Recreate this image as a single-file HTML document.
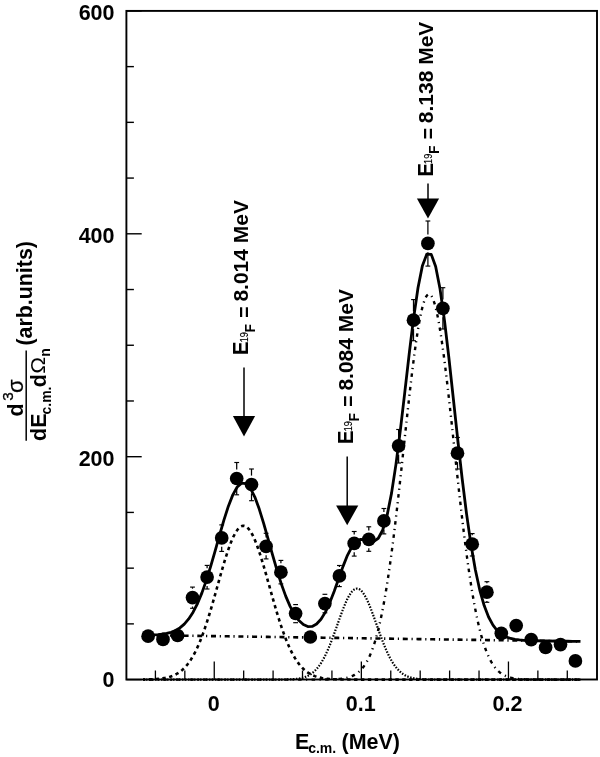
<!DOCTYPE html><html><head><meta charset="utf-8"><style>html,body{margin:0;padding:0;background:#fff;}svg{display:block;filter:grayscale(1);}text{font-family:"Liberation Sans",sans-serif;}</style></head><body>
<svg width="600" height="757" viewBox="0 0 600 757">
<rect x="0" y="0" width="600" height="757" fill="#fff"/>
<path d="M143.00,679.51 L144.00,679.50 L145.00,679.48 L146.00,679.46 L147.00,679.44 L148.00,679.42 L149.00,679.39 L150.00,679.36 L151.00,679.32 L152.00,679.28 L153.00,679.24 L154.00,679.18 L155.00,679.12 L156.00,679.06 L157.00,678.98 L158.00,678.90 L159.00,678.81 L160.00,678.70 L161.00,678.59 L162.00,678.46 L163.00,678.31 L164.00,678.15 L165.00,677.97 L166.00,677.77 L167.00,677.55 L168.00,677.31 L169.00,677.04 L170.00,676.74 L171.00,676.41 L172.00,676.06 L173.00,675.67 L174.00,675.24 L175.00,674.77 L176.00,674.26 L177.00,673.70 L178.00,673.10 L179.00,672.44 L180.00,671.73 L181.00,670.97 L182.00,670.14 L183.00,669.25 L184.00,668.29 L185.00,667.26 L186.00,666.15 L187.00,664.97 L188.00,663.71 L189.00,662.37 L190.00,660.94 L191.00,659.42 L192.00,657.81 L193.00,656.10 L194.00,654.30 L195.00,652.41 L196.00,650.41 L197.00,648.31 L198.00,646.11 L199.00,643.81 L200.00,641.41 L201.00,638.91 L202.00,636.31 L203.00,633.61 L204.00,630.81 L205.00,627.92 L206.00,624.94 L207.00,621.88 L208.00,618.73 L209.00,615.50 L210.00,612.21 L211.00,608.85 L212.00,605.43 L213.00,601.96 L214.00,598.45 L215.00,594.90 L216.00,591.33 L217.00,587.75 L218.00,584.16 L219.00,580.58 L220.00,577.02 L221.00,573.48 L222.00,569.99 L223.00,566.55 L224.00,563.17 L225.00,559.87 L226.00,556.66 L227.00,553.55 L228.00,550.54 L229.00,547.67 L230.00,544.93 L231.00,542.33 L232.00,539.90 L233.00,537.62 L234.00,535.53 L235.00,533.62 L236.00,531.90 L237.00,530.39 L238.00,529.08 L239.00,527.99 L240.00,527.11 L241.00,526.45 L242.00,526.02 L243.00,525.82 L244.00,525.84 L245.00,526.09 L246.00,526.57 L247.00,527.27 L248.00,528.19 L249.00,529.33 L250.00,530.68 L251.00,532.23 L252.00,533.99 L253.00,535.93 L254.00,538.07 L255.00,540.37 L256.00,542.84 L257.00,545.46 L258.00,548.23 L259.00,551.14 L260.00,554.16 L261.00,557.29 L262.00,560.52 L263.00,563.84 L264.00,567.23 L265.00,570.69 L266.00,574.19 L267.00,577.73 L268.00,581.30 L269.00,584.88 L270.00,588.47 L271.00,592.05 L272.00,595.61 L273.00,599.15 L274.00,602.66 L275.00,606.12 L276.00,609.52 L277.00,612.87 L278.00,616.15 L279.00,619.36 L280.00,622.50 L281.00,625.55 L282.00,628.51 L283.00,631.38 L284.00,634.16 L285.00,636.84 L286.00,639.42 L287.00,641.90 L288.00,644.28 L289.00,646.56 L290.00,648.74 L291.00,650.82 L292.00,652.79 L293.00,654.67 L294.00,656.45 L295.00,658.14 L296.00,659.73 L297.00,661.23 L298.00,662.64 L299.00,663.97 L300.00,665.22 L301.00,666.38 L302.00,667.47 L303.00,668.48 L304.00,669.43 L305.00,670.31 L306.00,671.12 L307.00,671.88 L308.00,672.58 L309.00,673.22 L310.00,673.82 L311.00,674.36 L312.00,674.87 L313.00,675.33 L314.00,675.75 L315.00,676.13 L316.00,676.48 L317.00,676.80 L318.00,677.09 L319.00,677.36 L320.00,677.59 L321.00,677.81 L322.00,678.01 L323.00,678.18 L324.00,678.34 L325.00,678.48 L326.00,678.61 L327.00,678.73 L328.00,678.83 L329.00,678.92 L330.00,679.00 L331.00,679.07 L332.00,679.14 L333.00,679.19 L334.00,679.24 L335.00,679.29 L336.00,679.33 L337.00,679.36 L338.00,679.39 L339.00,679.42 L340.00,679.45 L341.00,679.47 L342.00,679.48 L343.00,679.50 L344.00,679.51 L345.00,679.53 L346.00,679.54 L347.00,679.55 L348.00,679.55 L349.00,679.56 L350.00,679.57 L351.00,679.57 L352.00,679.57 L353.00,679.58 L354.00,679.58 L355.00,679.58 L356.00,679.59 L357.00,679.59 L358.00,679.59 L359.00,679.59 L360.00,679.59 L361.00,679.59 L362.00,679.60 L363.00,679.60 L364.00,679.60 L365.00,679.60 L366.00,679.60 L367.00,679.60 L368.00,679.60 L369.00,679.60 L370.00,679.60 L371.00,679.60 L372.00,679.60 L373.00,679.60 L374.00,679.60 L375.00,679.60 L376.00,679.60 L377.00,679.60 L378.00,679.60 L379.00,679.60 L380.00,679.60 L381.00,679.60 L382.00,679.60 L383.00,679.60 L384.00,679.60 L385.00,679.60 L386.00,679.60 L387.00,679.60 L388.00,679.60 L389.00,679.60 L390.00,679.60 L391.00,679.60 L392.00,679.60 L393.00,679.60 L394.00,679.60 L395.00,679.60 L396.00,679.60 L397.00,679.60 L398.00,679.60 L399.00,679.60 L400.00,679.60 L401.00,679.60 L402.00,679.60 L403.00,679.60 L404.00,679.60 L405.00,679.60 L406.00,679.60 L407.00,679.60 L408.00,679.60 L409.00,679.60 L410.00,679.60 L411.00,679.60 L412.00,679.60 L413.00,679.60 L414.00,679.60 L415.00,679.60 L416.00,679.60 L417.00,679.60 L418.00,679.60 L419.00,679.60 L420.00,679.60 L421.00,679.60 L422.00,679.60 L423.00,679.60 L424.00,679.60 L425.00,679.60 L426.00,679.60 L427.00,679.60 L428.00,679.60 L429.00,679.60 L430.00,679.60 L431.00,679.60 L432.00,679.60 L433.00,679.60 L434.00,679.60 L435.00,679.60 L436.00,679.60 L437.00,679.60 L438.00,679.60 L439.00,679.60 L440.00,679.60 L441.00,679.60 L442.00,679.60 L443.00,679.60 L444.00,679.60 L445.00,679.60 L446.00,679.60 L447.00,679.60 L448.00,679.60 L449.00,679.60 L450.00,679.60 L451.00,679.60 L452.00,679.60 L453.00,679.60 L454.00,679.60 L455.00,679.60 L456.00,679.60 L457.00,679.60 L458.00,679.60 L459.00,679.60 L460.00,679.60 L461.00,679.60 L462.00,679.60 L463.00,679.60 L464.00,679.60 L465.00,679.60 L466.00,679.60 L467.00,679.60 L468.00,679.60 L469.00,679.60 L470.00,679.60 L471.00,679.60 L472.00,679.60 L473.00,679.60 L474.00,679.60 L475.00,679.60 L476.00,679.60 L477.00,679.60 L478.00,679.60 L479.00,679.60 L480.00,679.60 L481.00,679.60 L482.00,679.60 L483.00,679.60 L484.00,679.60 L485.00,679.60 L486.00,679.60 L487.00,679.60 L488.00,679.60 L489.00,679.60 L490.00,679.60 L491.00,679.60 L492.00,679.60 L493.00,679.60 L494.00,679.60 L495.00,679.60 L496.00,679.60 L497.00,679.60 L498.00,679.60 L499.00,679.60 L500.00,679.60 L501.00,679.60 L502.00,679.60 L503.00,679.60 L504.00,679.60 L505.00,679.60 L506.00,679.60 L507.00,679.60 L508.00,679.60 L509.00,679.60 L510.00,679.60 L511.00,679.60 L512.00,679.60 L513.00,679.60 L514.00,679.60 L515.00,679.60 L516.00,679.60 L517.00,679.60 L518.00,679.60 L519.00,679.60 L520.00,679.60 L521.00,679.60 L522.00,679.60 L523.00,679.60 L524.00,679.60 L525.00,679.60 L526.00,679.60 L527.00,679.60 L528.00,679.60 L529.00,679.60 L530.00,679.60 L531.00,679.60 L532.00,679.60 L533.00,679.60 L534.00,679.60 L535.00,679.60 L536.00,679.60 L537.00,679.60 L538.00,679.60 L539.00,679.60 L540.00,679.60 L541.00,679.60 L542.00,679.60 L543.00,679.60 L544.00,679.60 L545.00,679.60 L546.00,679.60 L547.00,679.60 L548.00,679.60 L549.00,679.60 L550.00,679.60 L551.00,679.60 L552.00,679.60 L553.00,679.60 L554.00,679.60 L555.00,679.60 L556.00,679.60 L557.00,679.60 L558.00,679.60 L559.00,679.60 L560.00,679.60 L561.00,679.60 L562.00,679.60 L563.00,679.60 L564.00,679.60 L565.00,679.60 L566.00,679.60 L567.00,679.60 L568.00,679.60 L569.00,679.60 L570.00,679.60 L571.00,679.60 L572.00,679.60 L573.00,679.60 L574.00,679.60 L575.00,679.60 L576.00,679.60 L577.00,679.60 L578.00,679.60 L579.00,679.60 L580.00,679.60 L580.50,679.60" fill="none" stroke="#000" stroke-width="2.6" stroke-dasharray="3.4 3.48" stroke-dashoffset="1.2"/>
<path d="M143.00,679.60 L144.00,679.60 L145.00,679.60 L146.00,679.60 L147.00,679.60 L148.00,679.60 L149.00,679.60 L150.00,679.60 L151.00,679.60 L152.00,679.60 L153.00,679.60 L154.00,679.60 L155.00,679.60 L156.00,679.60 L157.00,679.60 L158.00,679.60 L159.00,679.60 L160.00,679.60 L161.00,679.60 L162.00,679.60 L163.00,679.60 L164.00,679.60 L165.00,679.60 L166.00,679.60 L167.00,679.60 L168.00,679.60 L169.00,679.60 L170.00,679.60 L171.00,679.60 L172.00,679.60 L173.00,679.60 L174.00,679.60 L175.00,679.60 L176.00,679.60 L177.00,679.60 L178.00,679.60 L179.00,679.60 L180.00,679.60 L181.00,679.60 L182.00,679.60 L183.00,679.60 L184.00,679.60 L185.00,679.60 L186.00,679.60 L187.00,679.60 L188.00,679.60 L189.00,679.60 L190.00,679.60 L191.00,679.60 L192.00,679.60 L193.00,679.60 L194.00,679.60 L195.00,679.60 L196.00,679.60 L197.00,679.60 L198.00,679.60 L199.00,679.60 L200.00,679.60 L201.00,679.60 L202.00,679.60 L203.00,679.60 L204.00,679.60 L205.00,679.60 L206.00,679.60 L207.00,679.60 L208.00,679.60 L209.00,679.60 L210.00,679.60 L211.00,679.60 L212.00,679.60 L213.00,679.60 L214.00,679.60 L215.00,679.60 L216.00,679.60 L217.00,679.60 L218.00,679.60 L219.00,679.60 L220.00,679.60 L221.00,679.60 L222.00,679.60 L223.00,679.60 L224.00,679.60 L225.00,679.60 L226.00,679.60 L227.00,679.60 L228.00,679.60 L229.00,679.60 L230.00,679.60 L231.00,679.60 L232.00,679.60 L233.00,679.60 L234.00,679.60 L235.00,679.60 L236.00,679.60 L237.00,679.60 L238.00,679.60 L239.00,679.60 L240.00,679.60 L241.00,679.60 L242.00,679.60 L243.00,679.60 L244.00,679.60 L245.00,679.60 L246.00,679.60 L247.00,679.60 L248.00,679.60 L249.00,679.60 L250.00,679.60 L251.00,679.60 L252.00,679.60 L253.00,679.60 L254.00,679.60 L255.00,679.60 L256.00,679.60 L257.00,679.60 L258.00,679.60 L259.00,679.60 L260.00,679.60 L261.00,679.60 L262.00,679.60 L263.00,679.60 L264.00,679.60 L265.00,679.60 L266.00,679.60 L267.00,679.60 L268.00,679.60 L269.00,679.60 L270.00,679.60 L271.00,679.59 L272.00,679.59 L273.00,679.59 L274.00,679.59 L275.00,679.59 L276.00,679.58 L277.00,679.58 L278.00,679.58 L279.00,679.57 L280.00,679.56 L281.00,679.55 L282.00,679.54 L283.00,679.53 L284.00,679.52 L285.00,679.50 L286.00,679.48 L287.00,679.46 L288.00,679.43 L289.00,679.39 L290.00,679.35 L291.00,679.30 L292.00,679.25 L293.00,679.18 L294.00,679.11 L295.00,679.02 L296.00,678.92 L297.00,678.80 L298.00,678.66 L299.00,678.51 L300.00,678.33 L301.00,678.13 L302.00,677.90 L303.00,677.63 L304.00,677.34 L305.00,677.00 L306.00,676.62 L307.00,676.20 L308.00,675.73 L309.00,675.20 L310.00,674.62 L311.00,673.97 L312.00,673.25 L313.00,672.46 L314.00,671.60 L315.00,670.65 L316.00,669.62 L317.00,668.50 L318.00,667.28 L319.00,665.97 L320.00,664.56 L321.00,663.04 L322.00,661.42 L323.00,659.70 L324.00,657.87 L325.00,655.93 L326.00,653.88 L327.00,651.73 L328.00,649.49 L329.00,647.14 L330.00,644.71 L331.00,642.19 L332.00,639.59 L333.00,636.93 L334.00,634.21 L335.00,631.44 L336.00,628.64 L337.00,625.82 L338.00,622.99 L339.00,620.17 L340.00,617.37 L341.00,614.61 L342.00,611.91 L343.00,609.27 L344.00,606.73 L345.00,604.30 L346.00,601.99 L347.00,599.81 L348.00,597.79 L349.00,595.94 L350.00,594.28 L351.00,592.81 L352.00,591.54 L353.00,590.49 L354.00,589.67 L355.00,589.08 L356.00,588.72 L357.00,588.60 L358.00,588.72 L359.00,589.08 L360.00,589.67 L361.00,590.49 L362.00,591.54 L363.00,592.81 L364.00,594.28 L365.00,595.94 L366.00,597.79 L367.00,599.81 L368.00,601.99 L369.00,604.30 L370.00,606.73 L371.00,609.27 L372.00,611.91 L373.00,614.61 L374.00,617.37 L375.00,620.17 L376.00,622.99 L377.00,625.82 L378.00,628.64 L379.00,631.44 L380.00,634.21 L381.00,636.93 L382.00,639.59 L383.00,642.19 L384.00,644.71 L385.00,647.14 L386.00,649.49 L387.00,651.73 L388.00,653.88 L389.00,655.93 L390.00,657.87 L391.00,659.70 L392.00,661.42 L393.00,663.04 L394.00,664.56 L395.00,665.97 L396.00,667.28 L397.00,668.50 L398.00,669.62 L399.00,670.65 L400.00,671.60 L401.00,672.46 L402.00,673.25 L403.00,673.97 L404.00,674.62 L405.00,675.20 L406.00,675.73 L407.00,676.20 L408.00,676.62 L409.00,677.00 L410.00,677.34 L411.00,677.63 L412.00,677.90 L413.00,678.13 L414.00,678.33 L415.00,678.51 L416.00,678.66 L417.00,678.80 L418.00,678.92 L419.00,679.02 L420.00,679.11 L421.00,679.18 L422.00,679.25 L423.00,679.30 L424.00,679.35 L425.00,679.39 L426.00,679.43 L427.00,679.46 L428.00,679.48 L429.00,679.50 L430.00,679.52 L431.00,679.53 L432.00,679.54 L433.00,679.55 L434.00,679.56 L435.00,679.57 L436.00,679.58 L437.00,679.58 L438.00,679.58 L439.00,679.59 L440.00,679.59 L441.00,679.59 L442.00,679.59 L443.00,679.59 L444.00,679.60 L445.00,679.60 L446.00,679.60 L447.00,679.60 L448.00,679.60 L449.00,679.60 L450.00,679.60 L451.00,679.60 L452.00,679.60 L453.00,679.60 L454.00,679.60 L455.00,679.60 L456.00,679.60 L457.00,679.60 L458.00,679.60 L459.00,679.60 L460.00,679.60 L461.00,679.60 L462.00,679.60 L463.00,679.60 L464.00,679.60 L465.00,679.60 L466.00,679.60 L467.00,679.60 L468.00,679.60 L469.00,679.60 L470.00,679.60 L471.00,679.60 L472.00,679.60 L473.00,679.60 L474.00,679.60 L475.00,679.60 L476.00,679.60 L477.00,679.60 L478.00,679.60 L479.00,679.60 L480.00,679.60 L481.00,679.60 L482.00,679.60 L483.00,679.60 L484.00,679.60 L485.00,679.60 L486.00,679.60 L487.00,679.60 L488.00,679.60 L489.00,679.60 L490.00,679.60 L491.00,679.60 L492.00,679.60 L493.00,679.60 L494.00,679.60 L495.00,679.60 L496.00,679.60 L497.00,679.60 L498.00,679.60 L499.00,679.60 L500.00,679.60 L501.00,679.60 L502.00,679.60 L503.00,679.60 L504.00,679.60 L505.00,679.60 L506.00,679.60 L507.00,679.60 L508.00,679.60 L509.00,679.60 L510.00,679.60 L511.00,679.60 L512.00,679.60 L513.00,679.60 L514.00,679.60 L515.00,679.60 L516.00,679.60 L517.00,679.60 L518.00,679.60 L519.00,679.60 L520.00,679.60 L521.00,679.60 L522.00,679.60 L523.00,679.60 L524.00,679.60 L525.00,679.60 L526.00,679.60 L527.00,679.60 L528.00,679.60 L529.00,679.60 L530.00,679.60 L531.00,679.60 L532.00,679.60 L533.00,679.60 L534.00,679.60 L535.00,679.60 L536.00,679.60 L537.00,679.60 L538.00,679.60 L539.00,679.60 L540.00,679.60 L541.00,679.60 L542.00,679.60 L543.00,679.60 L544.00,679.60 L545.00,679.60 L546.00,679.60 L547.00,679.60 L548.00,679.60 L549.00,679.60 L550.00,679.60 L551.00,679.60 L552.00,679.60 L553.00,679.60 L554.00,679.60 L555.00,679.60 L556.00,679.60 L557.00,679.60 L558.00,679.60 L559.00,679.60 L560.00,679.60 L561.00,679.60 L562.00,679.60 L563.00,679.60 L564.00,679.60 L565.00,679.60 L566.00,679.60 L567.00,679.60 L568.00,679.60 L569.00,679.60 L570.00,679.60 L571.00,679.60 L572.00,679.60 L573.00,679.60 L574.00,679.60 L575.00,679.60 L576.00,679.60 L577.00,679.60 L578.00,679.60 L579.00,679.60 L580.00,679.60 L580.50,679.60" fill="none" stroke="#000" stroke-width="2.2" stroke-dasharray="1.5 1.5"/>
<path d="M143.00,679.60 L143.50,679.60 L144.00,679.60 L144.50,679.60 L145.00,679.60 L145.50,679.60 L146.00,679.60 L146.50,679.60 L147.00,679.60 L147.50,679.60 L148.00,679.60 L148.50,679.60 L149.00,679.60 L149.50,679.60 L150.00,679.60 L150.50,679.60 L151.00,679.60 L151.50,679.60 L152.00,679.60 L152.50,679.60 L153.00,679.60 L153.50,679.60 L154.00,679.60 L154.50,679.60 L155.00,679.60 L155.50,679.60 L156.00,679.60 L156.50,679.60 L157.00,679.60 L157.50,679.60 L158.00,679.60 L158.50,679.60 L159.00,679.60 L159.50,679.60 L160.00,679.60 L160.50,679.60 L161.00,679.60 L161.50,679.60 L162.00,679.60 L162.50,679.60 L163.00,679.60 L163.50,679.60 L164.00,679.60 L164.50,679.60 L165.00,679.60 L165.50,679.60 L166.00,679.60 L166.50,679.60 L167.00,679.60 L167.50,679.60 L168.00,679.60 L168.50,679.60 L169.00,679.60 L169.50,679.60 L170.00,679.60 L170.50,679.60 L171.00,679.60 L171.50,679.60 L172.00,679.60 L172.50,679.60 L173.00,679.60 L173.50,679.60 L174.00,679.60 L174.50,679.60 L175.00,679.60 L175.50,679.60 L176.00,679.60 L176.50,679.60 L177.00,679.60 L177.50,679.60 L178.00,679.60 L178.50,679.60 L179.00,679.60 L179.50,679.60 L180.00,679.60 L180.50,679.60 L181.00,679.60 L181.50,679.60 L182.00,679.60 L182.50,679.60 L183.00,679.60 L183.50,679.60 L184.00,679.60 L184.50,679.60 L185.00,679.60 L185.50,679.60 L186.00,679.60 L186.50,679.60 L187.00,679.60 L187.50,679.60 L188.00,679.60 L188.50,679.60 L189.00,679.60 L189.50,679.60 L190.00,679.60 L190.50,679.60 L191.00,679.60 L191.50,679.60 L192.00,679.60 L192.50,679.60 L193.00,679.60 L193.50,679.60 L194.00,679.60 L194.50,679.60 L195.00,679.60 L195.50,679.60 L196.00,679.60 L196.50,679.60 L197.00,679.60 L197.50,679.60 L198.00,679.60 L198.50,679.60 L199.00,679.60 L199.50,679.60 L200.00,679.60 L200.50,679.60 L201.00,679.60 L201.50,679.60 L202.00,679.60 L202.50,679.60 L203.00,679.60 L203.50,679.60 L204.00,679.60 L204.50,679.60 L205.00,679.60 L205.50,679.60 L206.00,679.60 L206.50,679.60 L207.00,679.60 L207.50,679.60 L208.00,679.60 L208.50,679.60 L209.00,679.60 L209.50,679.60 L210.00,679.60 L210.50,679.60 L211.00,679.60 L211.50,679.60 L212.00,679.60 L212.50,679.60 L213.00,679.60 L213.50,679.60 L214.00,679.60 L214.50,679.60 L215.00,679.60 L215.50,679.60 L216.00,679.60 L216.50,679.60 L217.00,679.60 L217.50,679.60 L218.00,679.60 L218.50,679.60 L219.00,679.60 L219.50,679.60 L220.00,679.60 L220.50,679.60 L221.00,679.60 L221.50,679.60 L222.00,679.60 L222.50,679.60 L223.00,679.60 L223.50,679.60 L224.00,679.60 L224.50,679.60 L225.00,679.60 L225.50,679.60 L226.00,679.60 L226.50,679.60 L227.00,679.60 L227.50,679.60 L228.00,679.60 L228.50,679.60 L229.00,679.60 L229.50,679.60 L230.00,679.60 L230.50,679.60 L231.00,679.60 L231.50,679.60 L232.00,679.60 L232.50,679.60 L233.00,679.60 L233.50,679.60 L234.00,679.60 L234.50,679.60 L235.00,679.60 L235.50,679.60 L236.00,679.60 L236.50,679.60 L237.00,679.60 L237.50,679.60 L238.00,679.60 L238.50,679.60 L239.00,679.60 L239.50,679.60 L240.00,679.60 L240.50,679.60 L241.00,679.60 L241.50,679.60 L242.00,679.60 L242.50,679.60 L243.00,679.60 L243.50,679.60 L244.00,679.60 L244.50,679.60 L245.00,679.60 L245.50,679.60 L246.00,679.60 L246.50,679.60 L247.00,679.60 L247.50,679.60 L248.00,679.60 L248.50,679.60 L249.00,679.60 L249.50,679.60 L250.00,679.60 L250.50,679.60 L251.00,679.60 L251.50,679.60 L252.00,679.60 L252.50,679.60 L253.00,679.60 L253.50,679.60 L254.00,679.60 L254.50,679.60 L255.00,679.60 L255.50,679.60 L256.00,679.60 L256.50,679.60 L257.00,679.60 L257.50,679.60 L258.00,679.60 L258.50,679.60 L259.00,679.60 L259.50,679.60 L260.00,679.60 L260.50,679.60 L261.00,679.60 L261.50,679.60 L262.00,679.60 L262.50,679.60 L263.00,679.60 L263.50,679.60 L264.00,679.60 L264.50,679.60 L265.00,679.60 L265.50,679.60 L266.00,679.60 L266.50,679.60 L267.00,679.60 L267.50,679.60 L268.00,679.60 L268.50,679.60 L269.00,679.60 L269.50,679.60 L270.00,679.60 L270.50,679.60 L271.00,679.60 L271.50,679.60 L272.00,679.60 L272.50,679.60 L273.00,679.60 L273.50,679.60 L274.00,679.60 L274.50,679.60 L275.00,679.60 L275.50,679.60 L276.00,679.60 L276.50,679.60 L277.00,679.60 L277.50,679.60 L278.00,679.60 L278.50,679.60 L279.00,679.60 L279.50,679.60 L280.00,679.60 L280.50,679.60 L281.00,679.60 L281.50,679.60 L282.00,679.60 L282.50,679.60 L283.00,679.60 L283.50,679.60 L284.00,679.60 L284.50,679.60 L285.00,679.60 L285.50,679.60 L286.00,679.60 L286.50,679.60 L287.00,679.60 L287.50,679.60 L288.00,679.60 L288.50,679.60 L289.00,679.60 L289.50,679.60 L290.00,679.60 L290.50,679.60 L291.00,679.60 L291.50,679.60 L292.00,679.60 L292.50,679.60 L293.00,679.60 L293.50,679.60 L294.00,679.60 L294.50,679.60 L295.00,679.60 L295.50,679.60 L296.00,679.60 L296.50,679.60 L297.00,679.60 L297.50,679.60 L298.00,679.60 L298.50,679.60 L299.00,679.60 L299.50,679.60 L300.00,679.60 L300.50,679.60 L301.00,679.60 L301.50,679.60 L302.00,679.60 L302.50,679.60 L303.00,679.60 L303.50,679.60 L304.00,679.60 L304.50,679.60 L305.00,679.60 L305.50,679.60 L306.00,679.60 L306.50,679.60 L307.00,679.60 L307.50,679.60 L308.00,679.60 L308.50,679.60 L309.00,679.60 L309.50,679.60 L310.00,679.59 L310.50,679.59 L311.00,679.59 L311.50,679.59 L312.00,679.59 L312.50,679.59 L313.00,679.59 L313.50,679.59 L314.00,679.59 L314.50,679.59 L315.00,679.59 L315.50,679.59 L316.00,679.58 L316.50,679.58 L317.00,679.58 L317.50,679.58 L318.00,679.58 L318.50,679.58 L319.00,679.57 L319.50,679.57 L320.00,679.57 L320.50,679.57 L321.00,679.56 L321.50,679.56 L322.00,679.56 L322.50,679.55 L323.00,679.55 L323.50,679.54 L324.00,679.54 L324.50,679.53 L325.00,679.53 L325.50,679.52 L326.00,679.52 L326.50,679.51 L327.00,679.50 L327.50,679.49 L328.00,679.48 L328.50,679.47 L329.00,679.46 L329.50,679.45 L330.00,679.44 L330.50,679.43 L331.00,679.41 L331.50,679.40 L332.00,679.38 L332.50,679.36 L333.00,679.34 L333.50,679.32 L334.00,679.30 L334.50,679.28 L335.00,679.25 L335.50,679.23 L336.00,679.20 L336.50,679.17 L337.00,679.13 L337.50,679.10 L338.00,679.06 L338.50,679.02 L339.00,678.98 L339.50,678.93 L340.00,678.88 L340.50,678.83 L341.00,678.77 L341.50,678.71 L342.00,678.65 L342.50,678.58 L343.00,678.51 L343.50,678.44 L344.00,678.35 L344.50,678.27 L345.00,678.17 L345.50,678.08 L346.00,677.97 L346.50,677.86 L347.00,677.75 L347.50,677.62 L348.00,677.49 L348.50,677.35 L349.00,677.20 L349.50,677.04 L350.00,676.88 L350.50,676.70 L351.00,676.52 L351.50,676.32 L352.00,676.11 L352.50,675.89 L353.00,675.66 L353.50,675.42 L354.00,675.16 L354.50,674.89 L355.00,674.61 L355.50,674.30 L356.00,673.99 L356.50,673.65 L357.00,673.30 L357.50,672.93 L358.00,672.55 L358.50,672.14 L359.00,671.71 L359.50,671.26 L360.00,670.79 L360.50,670.30 L361.00,669.78 L361.50,669.24 L362.00,668.67 L362.50,668.07 L363.00,667.45 L363.50,666.80 L364.00,666.12 L364.50,665.41 L365.00,664.67 L365.50,663.89 L366.00,663.08 L366.50,662.24 L367.00,661.36 L367.50,660.45 L368.00,659.49 L368.50,658.50 L369.00,657.46 L369.50,656.39 L370.00,655.27 L370.50,654.11 L371.00,652.90 L371.50,651.65 L372.00,650.35 L372.50,649.01 L373.00,647.61 L373.50,646.16 L374.00,644.66 L374.50,643.11 L375.00,641.51 L375.50,639.85 L376.00,638.13 L376.50,636.36 L377.00,634.53 L377.50,632.64 L378.00,630.69 L378.50,628.68 L379.00,626.61 L379.50,624.47 L380.00,622.27 L380.50,620.01 L381.00,617.69 L381.50,615.30 L382.00,612.84 L382.50,610.31 L383.00,607.72 L383.50,605.07 L384.00,602.34 L384.50,599.55 L385.00,596.69 L385.50,593.76 L386.00,590.76 L386.50,587.69 L387.00,584.56 L387.50,581.36 L388.00,578.09 L388.50,574.75 L389.00,571.35 L389.50,567.88 L390.00,564.34 L390.50,560.74 L391.00,557.08 L391.50,553.35 L392.00,549.57 L392.50,545.72 L393.00,541.81 L393.50,537.85 L394.00,533.82 L394.50,529.75 L395.00,525.62 L395.50,521.44 L396.00,517.21 L396.50,512.93 L397.00,508.61 L397.50,504.25 L398.00,499.84 L398.50,495.40 L399.00,490.93 L399.50,486.42 L400.00,481.88 L400.50,477.32 L401.00,472.73 L401.50,468.13 L402.00,463.50 L402.50,458.87 L403.00,454.22 L403.50,449.57 L404.00,444.91 L404.50,440.26 L405.00,435.61 L405.50,430.96 L406.00,426.33 L406.50,421.72 L407.00,417.12 L407.50,412.55 L408.00,408.01 L408.50,403.50 L409.00,399.03 L409.50,394.60 L410.00,390.21 L410.50,385.87 L411.00,381.59 L411.50,377.36 L412.00,373.19 L412.50,369.09 L413.00,365.06 L413.50,361.10 L414.00,357.23 L414.50,353.43 L415.00,349.72 L415.50,346.10 L416.00,342.58 L416.50,339.15 L417.00,335.82 L417.50,332.60 L418.00,329.49 L418.50,326.49 L419.00,323.60 L419.50,320.84 L420.00,318.20 L420.50,315.68 L421.00,313.29 L421.50,311.03 L422.00,308.90 L422.50,306.91 L423.00,305.06 L423.50,303.34 L424.00,301.77 L424.50,300.34 L425.00,299.06 L425.50,297.93 L426.00,296.94 L426.50,296.11 L427.00,295.42 L427.50,294.89 L428.00,294.51 L428.50,294.28 L429.00,294.20 L429.50,294.28 L430.00,294.51 L430.50,294.89 L431.00,295.42 L431.50,296.11 L432.00,296.94 L432.50,297.93 L433.00,299.06 L433.50,300.34 L434.00,301.77 L434.50,303.34 L435.00,305.06 L435.50,306.91 L436.00,308.90 L436.50,311.03 L437.00,313.29 L437.50,315.68 L438.00,318.20 L438.50,320.84 L439.00,323.60 L439.50,326.49 L440.00,329.49 L440.50,332.60 L441.00,335.82 L441.50,339.15 L442.00,342.58 L442.50,346.10 L443.00,349.72 L443.50,353.43 L444.00,357.23 L444.50,361.10 L445.00,365.06 L445.50,369.09 L446.00,373.19 L446.50,377.36 L447.00,381.59 L447.50,385.87 L448.00,390.21 L448.50,394.60 L449.00,399.03 L449.50,403.50 L450.00,408.01 L450.50,412.55 L451.00,417.12 L451.50,421.72 L452.00,426.33 L452.50,430.96 L453.00,435.61 L453.50,440.26 L454.00,444.91 L454.50,449.57 L455.00,454.22 L455.50,458.87 L456.00,463.50 L456.50,468.13 L457.00,472.73 L457.50,477.32 L458.00,481.88 L458.50,486.42 L459.00,490.93 L459.50,495.40 L460.00,499.84 L460.50,504.25 L461.00,508.61 L461.50,512.93 L462.00,517.21 L462.50,521.44 L463.00,525.62 L463.50,529.75 L464.00,533.82 L464.50,537.85 L465.00,541.81 L465.50,545.72 L466.00,549.57 L466.50,553.35 L467.00,557.08 L467.50,560.74 L468.00,564.34 L468.50,567.88 L469.00,571.35 L469.50,574.75 L470.00,578.09 L470.50,581.36 L471.00,584.56 L471.50,587.69 L472.00,590.76 L472.50,593.76 L473.00,596.69 L473.50,599.55 L474.00,602.34 L474.50,605.07 L475.00,607.72 L475.50,610.31 L476.00,612.84 L476.50,615.30 L477.00,617.69 L477.50,620.01 L478.00,622.27 L478.50,624.47 L479.00,626.61 L479.50,628.68 L480.00,630.69 L480.50,632.64 L481.00,634.53 L481.50,636.36 L482.00,638.13 L482.50,639.85 L483.00,641.51 L483.50,643.11 L484.00,644.66 L484.50,646.16 L485.00,647.61 L485.50,649.01 L486.00,650.35 L486.50,651.65 L487.00,652.90 L487.50,654.11 L488.00,655.27 L488.50,656.39 L489.00,657.46 L489.50,658.50 L490.00,659.49 L490.50,660.45 L491.00,661.36 L491.50,662.24 L492.00,663.08 L492.50,663.89 L493.00,664.67 L493.50,665.41 L494.00,666.12 L494.50,666.80 L495.00,667.45 L495.50,668.07 L496.00,668.67 L496.50,669.24 L497.00,669.78 L497.50,670.30 L498.00,670.79 L498.50,671.26 L499.00,671.71 L499.50,672.14 L500.00,672.55 L500.50,672.93 L501.00,673.30 L501.50,673.65 L502.00,673.99 L502.50,674.30 L503.00,674.61 L503.50,674.89 L504.00,675.16 L504.50,675.42 L505.00,675.66 L505.50,675.89 L506.00,676.11 L506.50,676.32 L507.00,676.52 L507.50,676.70 L508.00,676.88 L508.50,677.04 L509.00,677.20 L509.50,677.35 L510.00,677.49 L510.50,677.62 L511.00,677.75 L511.50,677.86 L512.00,677.97 L512.50,678.08 L513.00,678.17 L513.50,678.27 L514.00,678.35 L514.50,678.44 L515.00,678.51 L515.50,678.58 L516.00,678.65 L516.50,678.71 L517.00,678.77 L517.50,678.83 L518.00,678.88 L518.50,678.93 L519.00,678.98 L519.50,679.02 L520.00,679.06 L520.50,679.10 L521.00,679.13 L521.50,679.17 L522.00,679.20 L522.50,679.23 L523.00,679.25 L523.50,679.28 L524.00,679.30 L524.50,679.32 L525.00,679.34 L525.50,679.36 L526.00,679.38 L526.50,679.40 L527.00,679.41 L527.50,679.43 L528.00,679.44 L528.50,679.45 L529.00,679.46 L529.50,679.47 L530.00,679.48 L530.50,679.49 L531.00,679.50 L531.50,679.51 L532.00,679.52 L532.50,679.52 L533.00,679.53 L533.50,679.53 L534.00,679.54 L534.50,679.54 L535.00,679.55 L535.50,679.55 L536.00,679.56 L536.50,679.56 L537.00,679.56 L537.50,679.57 L538.00,679.57 L538.50,679.57 L539.00,679.57 L539.50,679.58 L540.00,679.58 L540.50,679.58 L541.00,679.58 L541.50,679.58 L542.00,679.58 L542.50,679.59 L543.00,679.59 L543.50,679.59 L544.00,679.59 L544.50,679.59 L545.00,679.59 L545.50,679.59 L546.00,679.59 L546.50,679.59 L547.00,679.59 L547.50,679.59 L548.00,679.59 L548.50,679.60 L549.00,679.60 L549.50,679.60 L550.00,679.60 L550.50,679.60 L551.00,679.60 L551.50,679.60 L552.00,679.60 L552.50,679.60 L553.00,679.60 L553.50,679.60 L554.00,679.60 L554.50,679.60 L555.00,679.60 L555.50,679.60 L556.00,679.60 L556.50,679.60 L557.00,679.60 L557.50,679.60 L558.00,679.60 L558.50,679.60 L559.00,679.60 L559.50,679.60 L560.00,679.60 L560.50,679.60 L561.00,679.60 L561.50,679.60 L562.00,679.60 L562.50,679.60 L563.00,679.60 L563.50,679.60 L564.00,679.60 L564.50,679.60 L565.00,679.60 L565.50,679.60 L566.00,679.60 L566.50,679.60 L567.00,679.60 L567.50,679.60 L568.00,679.60 L568.50,679.60 L569.00,679.60 L569.50,679.60 L570.00,679.60 L570.50,679.60 L571.00,679.60 L571.50,679.60 L572.00,679.60 L572.50,679.60 L573.00,679.60 L573.50,679.60 L574.00,679.60 L574.50,679.60 L575.00,679.60 L575.50,679.60 L576.00,679.60 L576.50,679.60 L577.00,679.60 L577.50,679.60 L578.00,679.60 L578.50,679.60 L579.00,679.60 L579.50,679.60 L580.00,679.60 L580.50,679.60 L580.50,679.60" fill="none" stroke="#000" stroke-width="2.4" stroke-dasharray="3.5 4.4 1.2 4.4" stroke-dashoffset="6.89"/>
<path d="M148.10,635.16 L153.10,635.24 L158.10,635.31 L163.10,635.38 L168.10,635.45 L173.10,635.53 L178.10,635.60 L183.10,635.67 L188.10,635.74 L193.10,635.82 L198.10,635.89 L203.10,635.96 L208.10,636.03 L213.10,636.11 L218.10,636.18 L223.10,636.25 L228.10,636.32 L233.10,636.40 L238.10,636.47 L243.10,636.54 L248.10,636.61 L253.10,636.69 L258.10,636.76 L263.10,636.83 L268.10,636.90 L273.10,636.98 L278.10,637.05 L283.10,637.12 L288.10,637.19 L293.10,637.27 L298.10,637.34 L303.10,637.41 L308.10,637.48 L313.10,637.56 L318.10,637.63 L323.10,637.70 L328.10,637.77 L333.10,637.85 L338.10,637.92 L343.10,637.99 L348.10,638.06 L353.10,638.14 L358.10,638.21 L363.10,638.28 L368.10,638.35 L373.10,638.43 L378.10,638.50 L383.10,638.57 L388.10,638.64 L393.10,638.72 L398.10,638.79 L403.10,638.86 L408.10,638.93 L413.10,639.01 L418.10,639.08 L423.10,639.15 L428.10,639.22 L433.10,639.30 L438.10,639.37 L443.10,639.44 L448.10,639.51 L453.10,639.59 L458.10,639.66 L463.10,639.73 L468.10,639.80 L473.10,639.88 L478.10,639.95 L483.10,640.02 L488.10,640.09 L493.10,640.17 L498.10,640.24 L503.10,640.31 L508.10,640.38 L513.10,640.46 L518.10,640.53 L523.10,640.60 L528.10,640.67 L533.10,640.75 L538.10,640.82 L543.10,640.89 L548.10,640.96 L553.10,641.04 L558.10,641.11 L563.10,641.18 L568.10,641.25 L573.10,641.33 L578.10,641.40 L580.50,641.43" fill="none" stroke="#000" stroke-width="2.6" stroke-dasharray="5 3.75 1.2 3.75" stroke-dashoffset="5.6"/>
<path d="M148.10,634.98 L149.00,634.97 L153.41,634.86 L157.82,634.62 L162.23,634.19 L166.64,633.46 L171.05,632.30 L175.46,630.50 L179.87,627.85 L184.28,624.10 L188.69,618.95 L193.10,612.15 L197.51,603.49 L201.92,592.87 L206.33,580.35 L210.74,566.20 L215.15,550.91 L219.56,535.19 L223.97,519.94 L228.38,506.17 L232.79,494.88 L237.20,486.97 L241.61,483.08 L246.02,483.56 L250.43,488.37 L254.84,497.10 L259.25,509.06 L263.66,523.31 L268.07,538.85 L272.48,554.68 L276.89,569.92 L281.30,583.89 L285.71,596.13 L290.12,606.36 L294.53,614.51 L298.94,620.56 L303.35,624.57 L307.76,626.54 L312.17,626.41 L316.58,624.04 L320.99,619.30 L325.40,612.12 L329.81,602.61 L334.22,591.22 L338.63,578.76 L343.04,566.37 L347.45,555.32 L351.86,546.77 L356.27,541.44 L360.68,539.36 L365.09,539.74 L369.50,541.06 L373.91,541.30 L378.32,538.25 L382.73,529.99 L387.14,515.14 L391.55,493.13 L395.96,464.34 L400.37,430.04 L404.78,392.36 L409.19,354.02 L413.60,318.08 L418.01,287.68 L422.42,265.63 L426.83,254.12 L431.24,254.36 L435.65,266.40 L440.06,289.10 L444.47,320.43 L448.88,357.75 L453.29,398.24 L457.70,439.19 L462.11,478.26 L466.52,513.69 L470.93,544.36 L475.34,569.80 L479.75,590.06 L484.16,605.59 L488.57,617.04 L492.98,625.20 L497.39,630.81 L501.80,634.55 L506.21,636.96 L510.62,638.47 L515.03,639.40 L519.44,639.96 L523.85,640.31 L528.26,640.52 L532.67,640.67 L537.08,640.77 L541.49,640.85 L545.90,640.93 L550.31,640.99 L554.72,641.06 L559.13,641.12 L563.54,641.19 L567.95,641.25 L572.36,641.32 L576.77,641.38 L580.50,641.43" fill="none" stroke="#000" stroke-width="2.8" stroke-linejoin="round"/>
<rect x="126.40" y="10.90" width="470.60" height="668.60" fill="none" stroke="#000" stroke-width="1.9"/>
<line x1="126.40" y1="679.60" x2="141.70" y2="679.60" stroke="#000" stroke-width="1.4"/>
<line x1="126.40" y1="623.88" x2="133.90" y2="623.88" stroke="#000" stroke-width="1.4"/>
<line x1="126.40" y1="568.15" x2="133.90" y2="568.15" stroke="#000" stroke-width="1.4"/>
<line x1="126.40" y1="512.42" x2="133.90" y2="512.42" stroke="#000" stroke-width="1.4"/>
<line x1="126.40" y1="456.70" x2="141.70" y2="456.70" stroke="#000" stroke-width="1.4"/>
<line x1="126.40" y1="400.98" x2="133.90" y2="400.98" stroke="#000" stroke-width="1.4"/>
<line x1="126.40" y1="345.25" x2="133.90" y2="345.25" stroke="#000" stroke-width="1.4"/>
<line x1="126.40" y1="289.53" x2="133.90" y2="289.53" stroke="#000" stroke-width="1.4"/>
<line x1="126.40" y1="233.80" x2="141.70" y2="233.80" stroke="#000" stroke-width="1.4"/>
<line x1="126.40" y1="178.07" x2="133.90" y2="178.07" stroke="#000" stroke-width="1.4"/>
<line x1="126.40" y1="122.35" x2="133.90" y2="122.35" stroke="#000" stroke-width="1.4"/>
<line x1="126.40" y1="66.62" x2="133.90" y2="66.62" stroke="#000" stroke-width="1.4"/>
<line x1="126.40" y1="10.90" x2="141.70" y2="10.90" stroke="#000" stroke-width="1.4"/>
<line x1="155.41" y1="679.50" x2="155.41" y2="670.50" stroke="#000" stroke-width="1.3"/>
<line x1="184.83" y1="679.50" x2="184.83" y2="670.50" stroke="#000" stroke-width="1.3"/>
<line x1="214.25" y1="679.50" x2="214.25" y2="661.50" stroke="#000" stroke-width="1.3"/>
<line x1="243.67" y1="679.50" x2="243.67" y2="670.50" stroke="#000" stroke-width="1.3"/>
<line x1="273.09" y1="679.50" x2="273.09" y2="670.50" stroke="#000" stroke-width="1.3"/>
<line x1="302.51" y1="679.50" x2="302.51" y2="670.50" stroke="#000" stroke-width="1.3"/>
<line x1="331.93" y1="679.50" x2="331.93" y2="670.50" stroke="#000" stroke-width="1.3"/>
<line x1="361.35" y1="679.50" x2="361.35" y2="661.50" stroke="#000" stroke-width="1.3"/>
<line x1="390.77" y1="679.50" x2="390.77" y2="670.50" stroke="#000" stroke-width="1.3"/>
<line x1="420.19" y1="679.50" x2="420.19" y2="670.50" stroke="#000" stroke-width="1.3"/>
<line x1="449.61" y1="679.50" x2="449.61" y2="670.50" stroke="#000" stroke-width="1.3"/>
<line x1="479.03" y1="679.50" x2="479.03" y2="670.50" stroke="#000" stroke-width="1.3"/>
<line x1="508.45" y1="679.50" x2="508.45" y2="661.50" stroke="#000" stroke-width="1.3"/>
<line x1="537.87" y1="679.50" x2="537.87" y2="670.50" stroke="#000" stroke-width="1.3"/>
<line x1="567.29" y1="679.50" x2="567.29" y2="670.50" stroke="#000" stroke-width="1.3"/>
<line x1="192.50" y1="587.10" x2="192.50" y2="588.70" stroke="#000" stroke-width="1.25"/>
<line x1="190.10" y1="587.10" x2="194.90" y2="587.10" stroke="#000" stroke-width="1.15"/>
<line x1="192.50" y1="608.30" x2="192.50" y2="606.50" stroke="#000" stroke-width="1.25"/>
<line x1="190.10" y1="608.30" x2="194.90" y2="608.30" stroke="#000" stroke-width="1.15"/>
<line x1="207.10" y1="565.40" x2="207.10" y2="568.20" stroke="#000" stroke-width="1.25"/>
<line x1="204.70" y1="565.40" x2="209.50" y2="565.40" stroke="#000" stroke-width="1.15"/>
<line x1="207.10" y1="589.00" x2="207.10" y2="586.00" stroke="#000" stroke-width="1.25"/>
<line x1="204.70" y1="589.00" x2="209.50" y2="589.00" stroke="#000" stroke-width="1.15"/>
<line x1="221.70" y1="524.90" x2="221.70" y2="529.00" stroke="#000" stroke-width="1.25"/>
<line x1="219.30" y1="524.90" x2="224.10" y2="524.90" stroke="#000" stroke-width="1.15"/>
<line x1="221.70" y1="551.40" x2="221.70" y2="546.80" stroke="#000" stroke-width="1.25"/>
<line x1="219.30" y1="551.40" x2="224.10" y2="551.40" stroke="#000" stroke-width="1.15"/>
<line x1="236.70" y1="462.50" x2="236.70" y2="469.60" stroke="#000" stroke-width="1.25"/>
<line x1="234.30" y1="462.50" x2="239.10" y2="462.50" stroke="#000" stroke-width="1.15"/>
<line x1="236.70" y1="494.80" x2="236.70" y2="487.40" stroke="#000" stroke-width="1.25"/>
<line x1="234.30" y1="494.80" x2="239.10" y2="494.80" stroke="#000" stroke-width="1.15"/>
<line x1="251.50" y1="469.00" x2="251.50" y2="475.60" stroke="#000" stroke-width="1.25"/>
<line x1="249.10" y1="469.00" x2="253.90" y2="469.00" stroke="#000" stroke-width="1.15"/>
<line x1="251.50" y1="500.70" x2="251.50" y2="493.40" stroke="#000" stroke-width="1.25"/>
<line x1="249.10" y1="500.70" x2="253.90" y2="500.70" stroke="#000" stroke-width="1.15"/>
<line x1="266.10" y1="533.30" x2="266.10" y2="537.40" stroke="#000" stroke-width="1.25"/>
<line x1="263.70" y1="533.30" x2="268.50" y2="533.30" stroke="#000" stroke-width="1.15"/>
<line x1="266.10" y1="558.90" x2="266.10" y2="555.20" stroke="#000" stroke-width="1.25"/>
<line x1="263.70" y1="558.90" x2="268.50" y2="558.90" stroke="#000" stroke-width="1.15"/>
<line x1="280.90" y1="560.40" x2="280.90" y2="563.30" stroke="#000" stroke-width="1.25"/>
<line x1="278.50" y1="560.40" x2="283.30" y2="560.40" stroke="#000" stroke-width="1.15"/>
<line x1="280.90" y1="583.90" x2="280.90" y2="581.10" stroke="#000" stroke-width="1.25"/>
<line x1="278.50" y1="583.90" x2="283.30" y2="583.90" stroke="#000" stroke-width="1.15"/>
<line x1="293.20" y1="604.60" x2="298.00" y2="604.60" stroke="#000" stroke-width="1.15"/>
<line x1="295.60" y1="622.70" x2="295.60" y2="622.40" stroke="#000" stroke-width="1.25"/>
<line x1="293.20" y1="622.70" x2="298.00" y2="622.70" stroke="#000" stroke-width="1.15"/>
<line x1="324.90" y1="594.30" x2="324.90" y2="594.70" stroke="#000" stroke-width="1.25"/>
<line x1="322.50" y1="594.30" x2="327.30" y2="594.30" stroke="#000" stroke-width="1.15"/>
<line x1="322.50" y1="612.80" x2="327.30" y2="612.80" stroke="#000" stroke-width="1.15"/>
<line x1="339.40" y1="565.50" x2="339.40" y2="567.00" stroke="#000" stroke-width="1.25"/>
<line x1="337.00" y1="565.50" x2="341.80" y2="565.50" stroke="#000" stroke-width="1.15"/>
<line x1="339.40" y1="586.60" x2="339.40" y2="584.80" stroke="#000" stroke-width="1.25"/>
<line x1="337.00" y1="586.60" x2="341.80" y2="586.60" stroke="#000" stroke-width="1.15"/>
<line x1="354.20" y1="531.50" x2="354.20" y2="534.50" stroke="#000" stroke-width="1.25"/>
<line x1="351.80" y1="531.50" x2="356.60" y2="531.50" stroke="#000" stroke-width="1.15"/>
<line x1="354.20" y1="556.10" x2="354.20" y2="552.30" stroke="#000" stroke-width="1.25"/>
<line x1="351.80" y1="556.10" x2="356.60" y2="556.10" stroke="#000" stroke-width="1.15"/>
<line x1="368.80" y1="526.80" x2="368.80" y2="530.50" stroke="#000" stroke-width="1.25"/>
<line x1="366.40" y1="526.80" x2="371.20" y2="526.80" stroke="#000" stroke-width="1.15"/>
<line x1="368.80" y1="551.30" x2="368.80" y2="548.30" stroke="#000" stroke-width="1.25"/>
<line x1="366.40" y1="551.30" x2="371.20" y2="551.30" stroke="#000" stroke-width="1.15"/>
<line x1="383.90" y1="508.50" x2="383.90" y2="512.00" stroke="#000" stroke-width="1.25"/>
<line x1="381.50" y1="508.50" x2="386.30" y2="508.50" stroke="#000" stroke-width="1.15"/>
<line x1="383.90" y1="533.90" x2="383.90" y2="529.80" stroke="#000" stroke-width="1.25"/>
<line x1="381.50" y1="533.90" x2="386.30" y2="533.90" stroke="#000" stroke-width="1.15"/>
<line x1="398.60" y1="429.50" x2="398.60" y2="436.90" stroke="#000" stroke-width="1.25"/>
<line x1="396.20" y1="429.50" x2="401.00" y2="429.50" stroke="#000" stroke-width="1.15"/>
<line x1="398.60" y1="463.00" x2="398.60" y2="454.70" stroke="#000" stroke-width="1.25"/>
<line x1="396.20" y1="463.00" x2="401.00" y2="463.00" stroke="#000" stroke-width="1.15"/>
<line x1="413.50" y1="299.60" x2="413.50" y2="311.30" stroke="#000" stroke-width="1.25"/>
<line x1="411.10" y1="299.60" x2="415.90" y2="299.60" stroke="#000" stroke-width="1.15"/>
<line x1="413.50" y1="340.70" x2="413.50" y2="329.10" stroke="#000" stroke-width="1.25"/>
<line x1="411.10" y1="340.70" x2="415.90" y2="340.70" stroke="#000" stroke-width="1.15"/>
<line x1="427.90" y1="221.00" x2="427.90" y2="234.50" stroke="#000" stroke-width="1.25"/>
<line x1="425.50" y1="221.00" x2="430.30" y2="221.00" stroke="#000" stroke-width="1.15"/>
<line x1="427.90" y1="266.10" x2="427.90" y2="252.30" stroke="#000" stroke-width="1.25"/>
<line x1="425.50" y1="266.10" x2="430.30" y2="266.10" stroke="#000" stroke-width="1.15"/>
<line x1="442.90" y1="287.70" x2="442.90" y2="299.40" stroke="#000" stroke-width="1.25"/>
<line x1="440.50" y1="287.70" x2="445.30" y2="287.70" stroke="#000" stroke-width="1.15"/>
<line x1="442.90" y1="329.00" x2="442.90" y2="317.20" stroke="#000" stroke-width="1.25"/>
<line x1="440.50" y1="329.00" x2="445.30" y2="329.00" stroke="#000" stroke-width="1.15"/>
<line x1="457.50" y1="437.50" x2="457.50" y2="444.30" stroke="#000" stroke-width="1.25"/>
<line x1="455.10" y1="437.50" x2="459.90" y2="437.50" stroke="#000" stroke-width="1.15"/>
<line x1="457.50" y1="469.00" x2="457.50" y2="462.10" stroke="#000" stroke-width="1.25"/>
<line x1="455.10" y1="469.00" x2="459.90" y2="469.00" stroke="#000" stroke-width="1.15"/>
<line x1="472.20" y1="533.60" x2="472.20" y2="535.30" stroke="#000" stroke-width="1.25"/>
<line x1="469.80" y1="533.60" x2="474.60" y2="533.60" stroke="#000" stroke-width="1.15"/>
<line x1="472.20" y1="556.00" x2="472.20" y2="553.10" stroke="#000" stroke-width="1.25"/>
<line x1="469.80" y1="556.00" x2="474.60" y2="556.00" stroke="#000" stroke-width="1.15"/>
<line x1="486.90" y1="581.70" x2="486.90" y2="583.30" stroke="#000" stroke-width="1.25"/>
<line x1="484.50" y1="581.70" x2="489.30" y2="581.70" stroke="#000" stroke-width="1.15"/>
<line x1="486.90" y1="602.30" x2="486.90" y2="601.10" stroke="#000" stroke-width="1.25"/>
<line x1="484.50" y1="602.30" x2="489.30" y2="602.30" stroke="#000" stroke-width="1.15"/>
<circle cx="148.10" cy="636.20" r="6.85" fill="#000"/>
<circle cx="163.00" cy="639.40" r="6.85" fill="#000"/>
<circle cx="177.60" cy="635.50" r="6.85" fill="#000"/>
<circle cx="192.50" cy="597.60" r="6.85" fill="#000"/>
<circle cx="207.10" cy="577.10" r="6.85" fill="#000"/>
<circle cx="221.70" cy="537.90" r="6.85" fill="#000"/>
<circle cx="236.70" cy="478.50" r="6.85" fill="#000"/>
<circle cx="251.50" cy="484.50" r="6.85" fill="#000"/>
<circle cx="266.10" cy="546.30" r="6.85" fill="#000"/>
<circle cx="280.90" cy="572.20" r="6.85" fill="#000"/>
<circle cx="295.60" cy="613.50" r="6.85" fill="#000"/>
<circle cx="310.30" cy="637.00" r="6.85" fill="#000"/>
<circle cx="324.90" cy="603.60" r="6.85" fill="#000"/>
<circle cx="339.40" cy="575.90" r="6.85" fill="#000"/>
<circle cx="354.20" cy="543.40" r="6.85" fill="#000"/>
<circle cx="368.80" cy="539.40" r="6.85" fill="#000"/>
<circle cx="383.90" cy="520.90" r="6.85" fill="#000"/>
<circle cx="398.60" cy="445.80" r="6.85" fill="#000"/>
<circle cx="413.50" cy="320.20" r="6.85" fill="#000"/>
<circle cx="427.90" cy="243.40" r="6.85" fill="#000"/>
<circle cx="442.90" cy="308.30" r="6.85" fill="#000"/>
<circle cx="457.50" cy="453.20" r="6.85" fill="#000"/>
<circle cx="472.20" cy="544.20" r="6.85" fill="#000"/>
<circle cx="486.90" cy="592.20" r="6.85" fill="#000"/>
<circle cx="501.30" cy="633.30" r="6.85" fill="#000"/>
<circle cx="516.20" cy="625.60" r="6.85" fill="#000"/>
<circle cx="531.20" cy="639.60" r="6.85" fill="#000"/>
<circle cx="545.60" cy="647.40" r="6.85" fill="#000"/>
<circle cx="560.50" cy="644.60" r="6.85" fill="#000"/>
<circle cx="575.40" cy="660.90" r="6.85" fill="#000"/>
<line x1="244.00" y1="367.40" x2="244.00" y2="417.00" stroke="#000" stroke-width="1.5"/>
<polygon points="232.90,416.00 255.10,416.00 244.00,436.40" fill="#000"/>
<line x1="347.20" y1="456.60" x2="347.20" y2="506.40" stroke="#000" stroke-width="1.5"/>
<polygon points="336.10,505.40 358.30,505.40 347.20,525.20" fill="#000"/>
<line x1="428.00" y1="183.40" x2="428.00" y2="199.50" stroke="#000" stroke-width="1.5"/>
<polygon points="416.90,198.50 439.10,198.50 428.00,218.40" fill="#000"/>
<text x="114.50" y="20.20" font-size="21.50" font-weight="bold" text-anchor="end">600</text>
<text x="114.50" y="243.30" font-size="21.50" font-weight="bold" text-anchor="end">400</text>
<text x="114.50" y="466.00" font-size="21.50" font-weight="bold" text-anchor="end">200</text>
<text x="114.50" y="687.20" font-size="21.50" font-weight="bold" text-anchor="end">0</text>
<text x="213.70" y="711.20" font-size="21.50" font-weight="bold" text-anchor="middle">0</text>
<text x="360.70" y="711.20" font-size="21.50" font-weight="bold" text-anchor="middle">0.1</text>
<text x="507.50" y="711.20" font-size="21.50" font-weight="bold" text-anchor="middle">0.2</text>
<text x="295" y="748.8" font-size="21.50" font-weight="bold">E</text>
<text x="308.2" y="753.3" font-size="14" font-weight="bold">c.m.</text>
<text x="341.5" y="748.8" font-size="21.50" font-weight="bold">(MeV)</text>
<g transform="translate(247.90,353.90) rotate(-90)"><text transform="translate(-1.1,0) scale(0.94,1)" font-size="21.50" font-weight="bold">E</text><text transform="translate(11.6,-0.3) scale(0.86,1)" font-size="10.6" stroke="#000" stroke-width="0.15">19</text><text x="21.4" y="6.7" font-size="14" font-weight="bold">F</text><text x="36.2" y="2.6" font-size="19.5" font-weight="bold">=</text><text x="52.3" y="0" font-size="21" font-weight="bold">8.014 MeV</text></g>
<g transform="translate(352.60,442.90) rotate(-90)"><text transform="translate(-1.1,0) scale(0.94,1)" font-size="21.50" font-weight="bold">E</text><text transform="translate(11.6,-0.3) scale(0.86,1)" font-size="10.6" stroke="#000" stroke-width="0.15">19</text><text x="21.4" y="6.7" font-size="14" font-weight="bold">F</text><text x="36.2" y="2.6" font-size="19.5" font-weight="bold">=</text><text x="52.3" y="0" font-size="21" font-weight="bold">8.084 MeV</text></g>
<g transform="translate(432.70,175.50) rotate(-90)"><text transform="translate(-1.1,0) scale(0.94,1)" font-size="21.50" font-weight="bold">E</text><text transform="translate(11.6,-0.3) scale(0.86,1)" font-size="10.6" stroke="#000" stroke-width="0.15">19</text><text x="21.4" y="6.7" font-size="14" font-weight="bold">F</text><text x="36.2" y="2.6" font-size="19.5" font-weight="bold">=</text><text x="52.3" y="0" font-size="21" font-weight="bold">8.138 MeV</text></g>
<g transform="translate(0,440.8) rotate(-90)"><line x1="0" y1="26.2" x2="90.2" y2="26.2" stroke="#000" stroke-width="1.5"/><text x="24.3" y="22.7" font-size="21.50" font-weight="bold">d</text><text x="40.0" y="12.6" font-size="15.3" stroke="#000" stroke-width="0.3">3</text><text x="47.9" y="23.0" font-size="22" stroke="#000" stroke-width="0.25">&#963;</text><text x="-0.2" y="45.7" font-size="21.50" font-weight="bold">dE</text><text x="26.3" y="51.2" font-size="14" font-weight="bold">c.m.</text><text x="53.5" y="45.7" font-size="21.50" font-weight="bold">d</text><text transform="translate(67.0,45.0) scale(1.1,1)" x="0" y="0" font-size="20.5">&#937;</text><text x="84.0" y="50.0" font-size="14" font-weight="bold">n</text><text x="95.2" y="31.9" font-size="21.4" font-weight="bold">(arb.units)</text></g>
</svg></body></html>
